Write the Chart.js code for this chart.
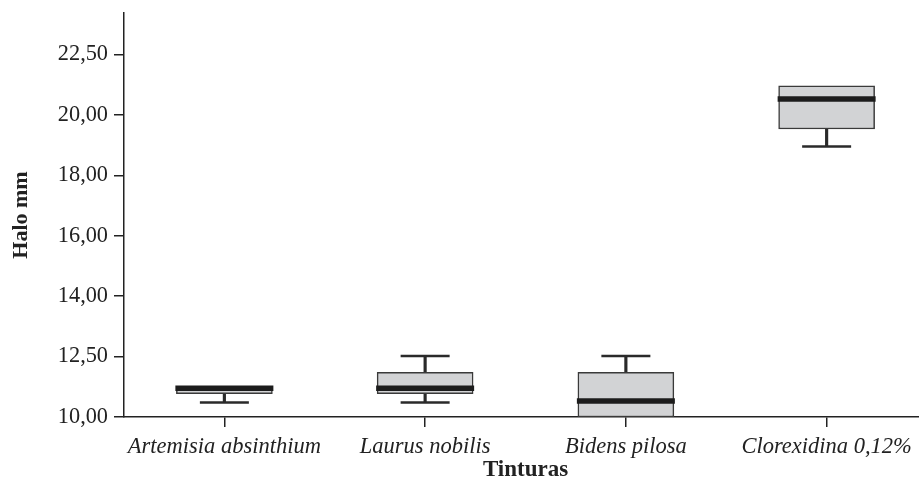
<!DOCTYPE html>
<html>
<head>
<meta charset="utf-8">
<script src="https://cdn.jsdelivr.net/npm/chart.js@4/dist/chart.umd.min.js"></script>
<style>
  html, body { margin: 0; padding: 0; background: #fff; overflow: hidden; }
  #wrap { position: relative; width: 927px; height: 497px; }
</style>
</head>
<body>
<div id="wrap"><canvas id="c"></canvas></div>
<script>
// ---- data ----
const categories = ['Artemisia absinthium', 'Laurus nobilis', 'Bidens pilosa', 'Clorexidina 0,12%'];
const minValues    = [10.48, 10.48, 10.00, 18.95];
const q1Values     = [10.77, 10.77, 10.00, 19.53];
const medianValues = [10.95, 10.95, 10.53, 20.52];
const q3Values     = [11.00, 11.48, 11.48, 20.96];
const maxValues    = [11.00, 12.02, 12.02, 20.96];
const yTickValues  = [10, 12, 14, 16, 18, 20, 22];
const yTickLabels  = ['10,00', '12,50', '14,00', '16,00', '18,00', '20,00', '22,50'];
const xTitle = 'Tinturas';
const yTitle = 'Halo mm';

const FONT = "'Liberation Serif', 'Times New Roman', serif";
const INK = '#222222';

const boxes   = categories.map((_, i) => [q1Values[i], q3Values[i]]);
// whiskers (stem + cap) only where they extend beyond the box
const upStems = categories.map((_, i) => maxValues[i] > q3Values[i] ? [q3Values[i], maxValues[i]] : null);
const loStems = categories.map((_, i) => minValues[i] < q1Values[i] ? [minValues[i], q1Values[i]] : null);
const upCaps  = categories.map((_, i) => maxValues[i] > q3Values[i] ? maxValues[i] : null);
const loCaps  = categories.map((_, i) => minValues[i] < q1Values[i] ? minValues[i] : null);

new Chart(document.getElementById('c'), {
  type: 'bar',
  data: {
    labels: categories,
    datasets: [
      { type: 'bar', data: upStems, grouped: false, barThickness: 2.5, backgroundColor: '#2a2a2a', borderWidth: 0, order: 5 },
      { type: 'bar', data: loStems, grouped: false, barThickness: 2.5, backgroundColor: '#2a2a2a', borderWidth: 0, order: 5 },
      { type: 'bar', data: boxes, grouped: false, barThickness: 96, backgroundColor: '#d2d3d5',
        borderColor: '#3a3a3a', borderWidth: 1.5, borderSkipped: false, order: 4 },
      { type: 'line', data: upCaps, showLine: false, pointStyle: 'line', pointRadius: 24.5,
        pointHoverRadius: 24.5, borderColor: '#2a2a2a', pointBorderWidth: 2.5, order: 3 },
      { type: 'line', data: loCaps, showLine: false, pointStyle: 'line', pointRadius: 24.5,
        pointHoverRadius: 24.5, borderColor: '#2a2a2a', pointBorderWidth: 2.5, order: 3 },
      { type: 'line', data: medianValues, showLine: false, pointStyle: 'line', pointRadius: 49,
        pointHoverRadius: 49, borderColor: '#1c1c1c', pointBorderWidth: 5.5, order: 1 }
    ]
  },
  options: {
    responsive: true,
    maintainAspectRatio: false,
    animation: false,
    events: [],
    layout: { autoPadding: false, padding: { top: 13, left: 0, right: 0, bottom: 0 } },
    plugins: { legend: { display: false }, tooltip: { enabled: false } },
    scales: {
      x: {
        offset: true,
        grid: { display: true, drawOnChartArea: false, offset: false, drawTicks: true, tickLength: 10,
                color: INK, lineWidth: 1.5 },
        border: { display: true, color: INK, width: 1.5 },
        ticks: { color: INK, padding: 7, maxRotation: 0, autoSkip: false,
                 font: { family: FONT, size: 22.5, style: 'italic' } },
        title: { display: true, text: xTitle, color: INK, padding: { top: 0, bottom: 13 },
                 font: { family: FONT, size: 23, weight: 'bold' } },
        afterFit: (s) => { s.height = 80; s.paddingLeft = 0; s.paddingRight = 0; }
      },
      y: {
        min: 10,
        max: 23.37,
        grid: { display: true, drawOnChartArea: false, drawTicks: true, tickLength: 10,
                color: INK, lineWidth: 1.5 },
        border: { display: true, color: INK, width: 1.5 },
        afterBuildTicks: (s) => { s.ticks = yTickValues.map(v => ({ value: v })); },
        ticks: {
          color: INK, padding: 6,
          font: { family: FONT, size: 22.3 },
          callback: (v) => { const i = yTickValues.indexOf(v); return i >= 0 ? yTickLabels[i] : ''; }
        },
        title: { display: true, text: yTitle, color: INK, padding: { top: 8, bottom: 0 },
                 font: { family: FONT, size: 22, weight: 'bold' } },
        afterFit: (s) => { s.width = 124; s.paddingTop = 0; s.paddingBottom = 0; }
      }
    }
  }
});
</script>
</body>
</html>
